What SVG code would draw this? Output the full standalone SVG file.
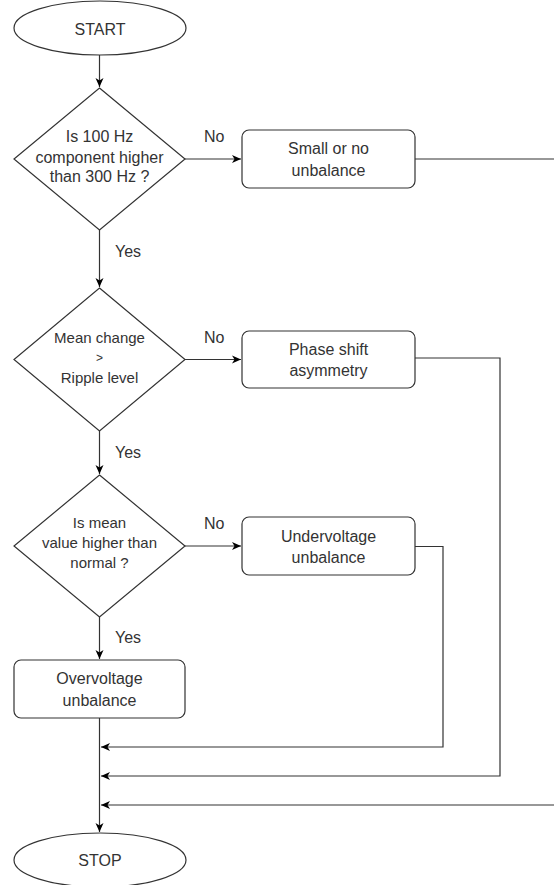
<svg xmlns="http://www.w3.org/2000/svg" width="554" height="885" viewBox="0 0 554 885">
<style>
.shape{fill:#fff;stroke:#333;stroke-width:1.2}
.t{font-family:"Liberation Sans",Arial,sans-serif;font-size:16px;fill:#333;text-anchor:middle}
.s{font-size:15px}
.lbl{font-family:"Liberation Sans",Arial,sans-serif;font-size:16px;fill:#333}
.c{fill:none;stroke:#333;stroke-width:1.2}
</style>
<defs>
<marker id="arr" markerUnits="userSpaceOnUse" markerWidth="10" markerHeight="10" refX="9" refY="5" orient="auto">
<path d="M0,1 L9,5 L0,9 L2.5,5 z" fill="#000"/>
</marker>
</defs>
<rect width="554" height="885" fill="#fff"/>
<g id="connectors">
<path class="c" d="M99.5,55 V87" marker-end="url(#arr)"/>
<path class="c" d="M99.5,230 V287" marker-end="url(#arr)"/>
<path class="c" d="M99.5,431 V474" marker-end="url(#arr)"/>
<path class="c" d="M99.5,617 V659" marker-end="url(#arr)"/>
<path class="c" d="M99.5,718 V832" marker-end="url(#arr)"/>
<path class="c" d="M185,159 H241" marker-end="url(#arr)"/>
<path class="c" d="M185,359.5 H241" marker-end="url(#arr)"/>
<path class="c" d="M185,546 H241" marker-end="url(#arr)"/>
<path class="c" d="M415,159 H560 V805 H101" marker-end="url(#arr)"/>
<path class="c" d="M415,358 H500 V776 H101" marker-end="url(#arr)"/>
<path class="c" d="M415,546.5 H443 V747 H101" marker-end="url(#arr)"/>
<text class="lbl" x="204" y="142">No</text>
<text class="lbl" x="115" y="257">Yes</text>
<text class="lbl" x="204" y="343">No</text>
<text class="lbl" x="115" y="458">Yes</text>
<text class="lbl" x="204" y="529">No</text>
<text class="lbl" x="115" y="643">Yes</text>
</g>
<g id="start">
<ellipse class="shape" cx="100" cy="28" rx="86" ry="27"/>
<text class="t" x="100" y="35">START</text>
</g>
<g id="decision1">
<polygon class="shape" points="99.5,88 185,159 99.5,230 14,159"/>
<text class="t" x="99.5" y="142">Is 100 Hz</text>
<text class="t" x="99.5" y="163">component higher</text>
<text class="t" x="99.5" y="182">than 300 Hz ?</text>
</g>
<g id="small">
<rect class="shape" x="242" y="130" width="173" height="58" rx="7"/>
<text class="t" x="328.5" y="154">Small or no</text>
<text class="t" x="328.5" y="176">unbalance</text>
</g>
<g id="decision2">
<polygon class="shape" points="99.5,288 185,359.5 99.5,431 14,359.5"/>
<text class="t s" x="99.5" y="343">Mean change</text>
<text class="t s" x="99.5" y="362" style="font-size:12px">&gt;</text>
<text class="t s" x="99.5" y="383">Ripple level</text>
</g>
<g id="phase">
<rect class="shape" x="242" y="331" width="173" height="57" rx="7"/>
<text class="t" x="328.5" y="355">Phase shift</text>
<text class="t" x="328.5" y="376">asymmetry</text>
</g>
<g id="decision3">
<polygon class="shape" points="99.5,475 185,546 99.5,617 14,546"/>
<text class="t s" x="99.5" y="528">Is mean</text>
<text class="t s" x="99.5" y="548">value higher than</text>
<text class="t s" x="99.5" y="568">normal ?</text>
</g>
<g id="under">
<rect class="shape" x="242" y="517" width="173" height="58" rx="7"/>
<text class="t" x="328.5" y="542">Undervoltage</text>
<text class="t" x="328.5" y="563">unbalance</text>
</g>
<g id="over">
<rect class="shape" x="14" y="660" width="171" height="58" rx="7"/>
<text class="t" x="99.5" y="684">Overvoltage</text>
<text class="t" x="99.5" y="706">unbalance</text>
</g>
<g id="stop">
<ellipse class="shape" cx="100" cy="860" rx="86" ry="27"/>
<text class="t" x="100" y="866">STOP</text>
</g>
</svg>
